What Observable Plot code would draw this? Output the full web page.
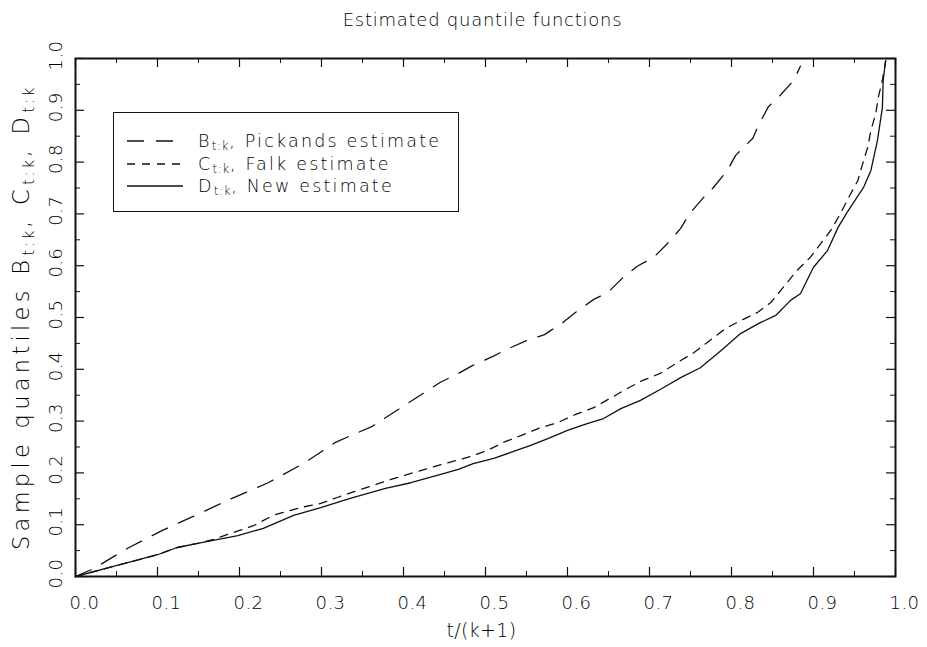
<!DOCTYPE html>
<html>
<head>
<meta charset="utf-8">
<script src="https://cdn.jsdelivr.net/npm/d3@7"></script>
<script src="https://cdn.jsdelivr.net/npm/@observablehq/plot@0.6"></script>
<style>
  html, body { margin: 0; padding: 0; background: #fff; }
  #wrap { position: relative; width: 927px; height: 647px; font-family: "DejaVu Sans", sans-serif; font-weight: 200; color: #000; }
  #legend { position: absolute; left: 113px; top: 112px; width: 346px; height: 100px; border: 1.5px solid #111; box-sizing: border-box; background: #fff; }
  .row { position: absolute; left: 0; height: 22px; display: flex; align-items: center; white-space: nowrap; }
  .row svg { margin-left: 13px; }
  .row span { margin-left: 15px; font-size: 17.5px; letter-spacing: 2.2px; }
  .row sub { font-size: 12px; letter-spacing: 0.6px; vertical-align: -3px; line-height: 0; }
</style>
</head>
<body>
<div id="wrap"></div>
<script>
// ---- data ----
const seriesNames = ["Pickands estimate", "Falk estimate", "New estimate"];
const seriesSymbols = ["B", "C", "D"];

const bX = [0, 0.022, 0.063, 0.106, 0.149, 0.191, 0.235, 0.278, 0.317, 0.362, 0.405, 0.445, 0.467, 0.484, 0.509, 0.528, 0.551, 0.572, 0.594, 0.610, 0.632, 0.649, 0.667, 0.685, 0.705, 0.722, 0.738, 0.749, 0.765, 0.778, 0.795, 0.805, 0.826, 0.833, 0.845, 0.860, 0.876, 0.884];
const bY = [0, 0.015, 0.054, 0.089, 0.120, 0.151, 0.181, 0.218, 0.259, 0.290, 0.334, 0.375, 0.392, 0.407, 0.425, 0.440, 0.456, 0.467, 0.490, 0.510, 0.535, 0.548, 0.576, 0.599, 0.616, 0.643, 0.672, 0.701, 0.730, 0.751, 0.784, 0.813, 0.846, 0.871, 0.907, 0.930, 0.958, 0.985];

const cX = [0, 0.045, 0.100, 0.124, 0.149, 0.167, 0.189, 0.217, 0.241, 0.274, 0.299, 0.320, 0.344, 0.363, 0.388, 0.409, 0.433, 0.455, 0.478, 0.502, 0.522, 0.543, 0.565, 0.588, 0.610, 0.632, 0.652, 0.673, 0.691, 0.713, 0.734, 0.754, 0.774, 0.793, 0.811, 0.832, 0.848, 0.863, 0.880, 0.896, 0.909, 0.921, 0.933, 0.943, 0.954, 0.960, 0.966, 0.970, 0.976, 0.979, 0.984, 0.988];
const cY = [0, 0.019, 0.042, 0.056, 0.064, 0.071, 0.083, 0.098, 0.118, 0.133, 0.141, 0.153, 0.166, 0.176, 0.189, 0.199, 0.210, 0.220, 0.230, 0.243, 0.259, 0.272, 0.286, 0.297, 0.313, 0.326, 0.344, 0.363, 0.378, 0.392, 0.413, 0.432, 0.456, 0.479, 0.494, 0.510, 0.529, 0.558, 0.591, 0.616, 0.643, 0.668, 0.701, 0.732, 0.764, 0.797, 0.828, 0.861, 0.894, 0.925, 0.958, 0.996];

const dX = [0, 0.045, 0.100, 0.124, 0.149, 0.198, 0.229, 0.266, 0.299, 0.335, 0.378, 0.409, 0.441, 0.467, 0.485, 0.510, 0.530, 0.555, 0.576, 0.600, 0.624, 0.644, 0.665, 0.689, 0.713, 0.738, 0.762, 0.787, 0.811, 0.835, 0.854, 0.872, 0.884, 0.900, 0.917, 0.930, 0.941, 0.961, 0.970, 0.978, 0.984, 0.985, 0.988];
const dY = [0, 0.019, 0.042, 0.056, 0.064, 0.079, 0.093, 0.118, 0.133, 0.151, 0.170, 0.181, 0.195, 0.207, 0.218, 0.228, 0.239, 0.253, 0.266, 0.282, 0.295, 0.305, 0.324, 0.340, 0.361, 0.384, 0.403, 0.436, 0.469, 0.490, 0.504, 0.533, 0.546, 0.597, 0.629, 0.674, 0.703, 0.751, 0.784, 0.842, 0.905, 0.958, 0.996];

const tickLabels = ["0.0", "0.1", "0.2", "0.3", "0.4", "0.5", "0.6", "0.7", "0.8", "0.9", "1.0"];
const majorTicks = tickLabels.map(Number);
const minorTicks = [0.05, 0.15, 0.25, 0.35, 0.45, 0.55, 0.65, 0.75, 0.85, 0.95];

const titleText = "Estimated quantile functions";
const xLabel = "t/(k+1)";
const yLabelParts = [["Sample quantiles B", false], ["t:k", true], [", C", false], ["t:k", true], [", D", false], ["t:k", true]];

// ---- build tables ----
const toRows = (xs, ys) => xs.map((x, i) => ({x, y: ys[i]}));
const bRows = toRows(bX, bY), cRows = toRows(cX, cY), dRows = toRows(dX, dY);

const W = 927, H = 647, mL = 75, mR = 32, mT = 58, mB = 71;
const fw = W - mL - mR, fh = H - mT - mB;
const font = {fontFamily: "DejaVu Sans", fontWeight: 200, fill: "#000"};

// render hook that adds letter spacing to a text mark
const spaced = (ls) => (index, scales, values, dims, ctx, next) => {
  const g = next(index, scales, values, dims, ctx);
  g.setAttribute("letter-spacing", ls);
  return g;
};

const subRender = (index, scales, values, dims, ctx, next) => {
  const g = next(index, scales, values, dims, ctx);
  g.setAttribute("letter-spacing", 4.3);
  d3.select(g).selectAll("text").each(function () {
    const t = d3.select(this);
    t.text(null);
    yLabelParts.forEach(([s, sub], k) => {
      const ts = t.append("tspan").text(s);
      if (sub) ts.attr("font-size", 15.5).attr("dy", 5).attr("letter-spacing", 2.5);
      else if (k > 0) ts.attr("dy", -5);
    });
  });
  return g;
};

const plot = Plot.plot({
  width: W, height: H,
  marginLeft: mL, marginRight: mR, marginTop: mT, marginBottom: mB,
  x: {domain: [0, 1], axis: null},
  y: {domain: [0, 1], axis: null},
  style: {fontFamily: "DejaVu Sans", background: "#fff"},
  marks: [
    // ticks, inward, on all four sides
    Plot.tickX(majorTicks, {x: d => d, insetTop: fh - 9, stroke: "#111", strokeWidth: 1.2}),
    Plot.tickX(minorTicks, {x: d => d, insetTop: fh - 5, stroke: "#111", strokeWidth: 1}),
    Plot.tickX(majorTicks, {x: d => d, insetBottom: fh - 9, stroke: "#111", strokeWidth: 1.2}),
    Plot.tickX(minorTicks, {x: d => d, insetBottom: fh - 5, stroke: "#111", strokeWidth: 1}),
    Plot.tickY(majorTicks, {y: d => d, insetRight: fw - 9, stroke: "#111", strokeWidth: 1.2}),
    Plot.tickY(minorTicks, {y: d => d, insetRight: fw - 5, stroke: "#111", strokeWidth: 1}),
    Plot.tickY(majorTicks, {y: d => d, insetLeft: fw - 9, stroke: "#111", strokeWidth: 1.2}),
    Plot.tickY(minorTicks, {y: d => d, insetLeft: fw - 5, stroke: "#111", strokeWidth: 1}),
    // curves
    Plot.line(bRows, {x: "x", y: "y", stroke: "#111", strokeWidth: 1.3, strokeDasharray: "17,12"}),
    Plot.line(cRows, {x: "x", y: "y", stroke: "#111", strokeWidth: 1.3, strokeDasharray: "8,7"}),
    Plot.line(dRows, {x: "x", y: "y", stroke: "#111", strokeWidth: 1.3}),
    Plot.frame({stroke: "#111", strokeWidth: 2}),
    // tick labels
    Plot.text(majorTicks, {x: d => d, frameAnchor: "bottom", lineAnchor: "middle", dy: 27, dx: 9, text: (d, i) => tickLabels[i], fontSize: 18, ...font, render: spaced(0.4)}),
    Plot.text(majorTicks, {y: d => d, frameAnchor: "left", textAnchor: "middle", dx: -19, dy: -3, rotate: -90, text: (d, i) => tickLabels[i], fontSize: 18, ...font, render: spaced(0.4)}),
    // titles
    Plot.text([titleText], {frameAnchor: "top", textAnchor: "middle", dy: -45, dx: -3, text: d => d, fontSize: 18, ...font, render: spaced(0.75)}),
    Plot.text([xLabel], {frameAnchor: "bottom", textAnchor: "middle", lineAnchor: "middle", dy: 54, dx: -4, text: d => d, fontSize: 19, ...font, render: spaced(0.3)}),
    Plot.text(["y"], {frameAnchor: "left", textAnchor: "middle", dx: -54, dy: 0, rotate: -90, text: d => d, fontSize: 22.5, ...font, render: subRender})
  ]
});

const wrap = document.getElementById("wrap");
wrap.appendChild(plot);

// legend
const legend = document.createElement("div");
legend.id = "legend";
const dashes = ["17,12", "8,7", null];
const rowTops = [17, 40, 62];
seriesNames.forEach((name, i) => {
  const row = document.createElement("div");
  row.className = "row";
  row.style.top = rowTops[i] + "px";
  const dash = dashes[i] ? `stroke-dasharray="${dashes[i]}"` : "";
  row.innerHTML = `<svg width="56" height="10"><line x1="0" y1="5" x2="56" y2="5" stroke="#111" stroke-width="1.3" ${dash}/></svg>` +
    `<span>${seriesSymbols[i]}<sub>t:k</sub>, ${name}</span>`;
  legend.appendChild(row);
});
wrap.appendChild(legend);
</script>
</body>
</html>
